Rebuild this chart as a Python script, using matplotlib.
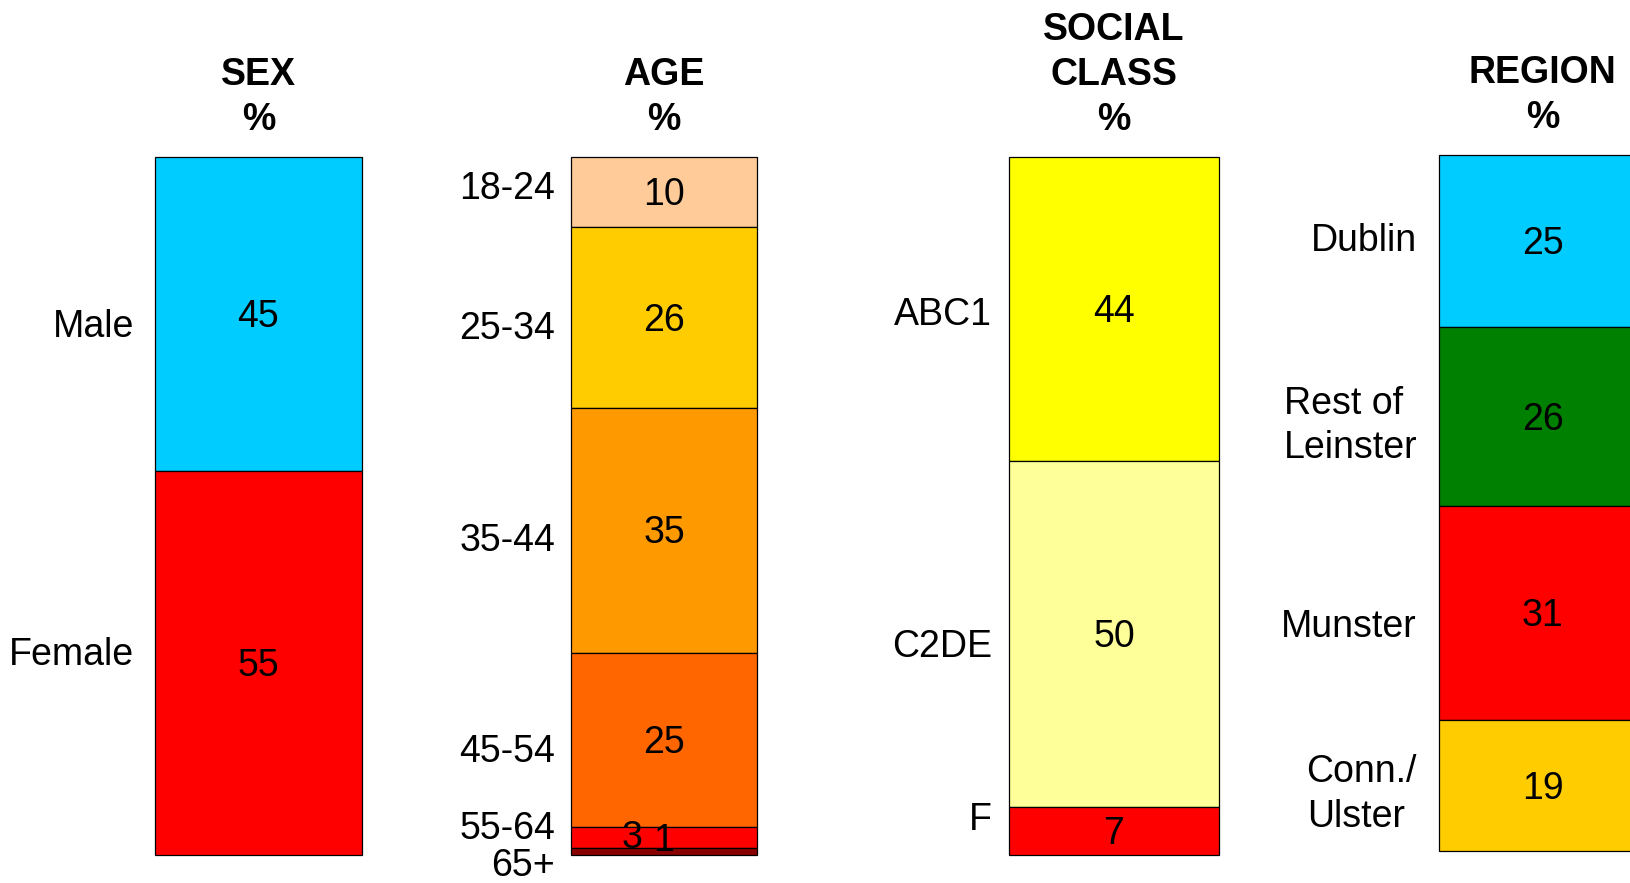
import matplotlib
matplotlib.use("Agg")
import matplotlib.pyplot as plt
import numpy as np

plt.rcParams["font.family"] = ["Liberation Sans", "DejaVu Sans"]

# Sample profile, each panel is one 100% stacked column
sex_labels = ["Male", "Female"]
sex_values = [45, 55]
sex_colors = ["#00CCFF", "#FF0000"]

age_labels = ["18-24", "25-34", "35-44", "45-54", "55-64", "65+"]
age_values = [10, 26, 35, 25, 3, 1]
age_colors = ["#FFCC99", "#FFCC00", "#FF9900", "#FF6600", "#FF0000", "#880000"]

class_labels = ["ABC1", "C2DE", "F"]
class_values = [44, 50, 7]
class_colors = ["#FFFF00", "#FFFF99", "#FF0000"]

region_labels = ["Dublin", "Rest of\nLeinster", "Munster", "Conn./\nUlster"]
region_values = [25, 26, 31, 19]
region_colors = ["#00CCFF", "#008000", "#FF0000", "#FFCC00"]

W, H = 1631, 883
FS = 27
fig = plt.figure(figsize=(W / 100, H / 100), dpi=100)


def px_axes(x0, x1, y0, y1):
    # axes box given in pixel coordinates measured from the top-left corner
    return fig.add_axes([x0 / W, 1 - y1 / H, (x1 - x0) / W, (y1 - y0) / H])


def stacked_column(ax, title, labels, values, colors, label_pad,
                   label_nudge=None, value_nudge=None):
    values = np.array(values, dtype=float)
    bottoms = np.concatenate([[0], np.cumsum(values)[:-1]])
    bars = ax.bar(np.zeros(len(values)), values, bottom=bottoms, width=1.0,
                  color=colors, edgecolor="black", linewidth=0.9)
    for b in bars:
        b.set_clip_on(False)
    ax.set_xlim(-0.5, 0.5)
    ax.set_ylim(values.sum(), 0)
    ax.axis("off")

    centers = bottoms + values / 2
    label_nudge = label_nudge or [0] * len(values)
    value_nudge = value_nudge or [(0, 0)] * len(values)
    for lab, val, c, ln, (vx, vy) in zip(labels, values, centers,
                                          label_nudge, value_nudge):
        ax.annotate(f"{val:.0f}", xy=(0, c), xytext=(vx, vy - 3),
                    textcoords="offset pixels", ha="center", va="center",
                    fontsize=FS, annotation_clip=False)
        ax.annotate(lab, xy=(-0.5, c), xytext=(-label_pad, ln),
                    textcoords="offset pixels", ha="right", va="center",
                    multialignment="left", linespacing=1.3,
                    fontsize=FS, annotation_clip=False)

    ax.annotate(title, xy=(0.5, 1), xycoords="axes fraction",
                xytext=(0, 19), textcoords="offset pixels",
                ha="center", va="bottom", fontsize=FS, fontweight="bold",
                linespacing=1.32, annotation_clip=False)


ax_sex = px_axes(155, 362, 157, 855)
stacked_column(ax_sex, "SEX\n%", sex_labels, sex_values, sex_colors, 21,
               label_nudge=[-13, 8])

ax_age = px_axes(571, 757, 157, 855)
stacked_column(ax_age, "AGE\n%", age_labels, age_values, age_colors, 16,
               label_nudge=[3, -11, -11, -12, 9, -14],
               value_nudge=[(0, 0), (0, 0), (0, 0), (0, 0), (-32, 3), (0, 14)])

ax_class = px_axes(1009, 1219, 157, 855)
stacked_column(ax_class, "SOCIAL\nCLASS\n%", class_labels, class_values,
               class_colors, 17, label_nudge=[-6, -13, 11])

ax_region = px_axes(1439, 1646, 155, 851)
stacked_column(ax_region, "REGION\n%", region_labels, region_values,
               region_colors, 22, label_nudge=[0, -9, -14, -9])

fig.savefig("out.png", dpi=100)
